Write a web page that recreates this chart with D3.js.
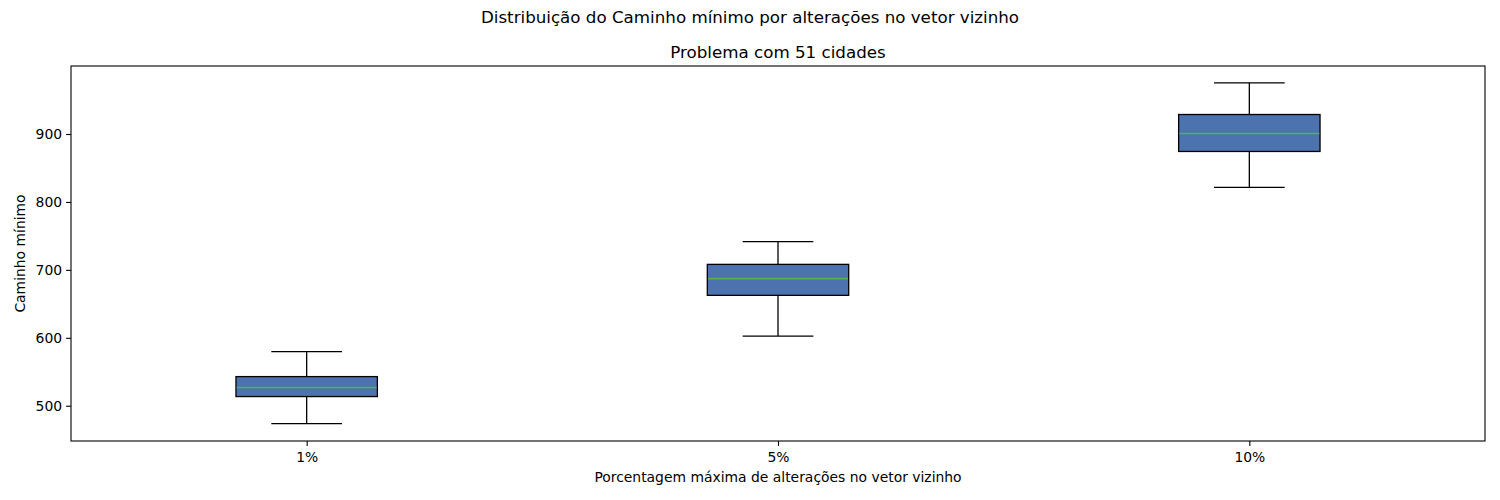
<!DOCTYPE html>
<html><head><meta charset="utf-8">
<script src="https://cdn.jsdelivr.net/npm/d3@7"></script>
<style>body{margin:0;background:#fff}svg{font-family:"DejaVu Sans",sans-serif}</style>
</head><body><svg id="c" width="1500" height="500"></svg>
<script>
const categories = ["1%", "5%", "10%"];
const whiskerLow = [473.8, 602.6, 821.3];
const q1 = [513.5, 662.5, 874.3];
const median = [526.8, 687.1, 900.7];
const q3 = [542.9, 708.1, 928.7];
const whiskerHigh = [579.7, 741.5, 975.3];
const yTicks = [500, 600, 700, 800, 900];

const svg = d3.select("#c");
const L = 71, R = 1485, T = 66, B = 441;
const x = d3.scaleLinear().domain([0.5, 3.5]).range([L, R]);
const y = d3.scaleLinear().domain([448.1, 1000.1]).range([B, T]);
const step = x(2) - x(1);
const bw = 0.3 * step, cw = 0.15 * step;

svg.append("text").attr("x", 750).attr("y", 23).attr("text-anchor", "middle").attr("font-size", 16.7).text("Distribuição do Caminho mínimo por alterações no vetor vizinho");
svg.append("text").attr("x", (L + R) / 2).attr("y", 58).attr("text-anchor", "middle").attr("font-size", 16.7).text("Problema com 51 cidades");

const yAxis = svg.append("g").attr("transform", `translate(${L},0)`).call(d3.axisLeft(y).tickValues(yTicks).tickSize(4.9).tickPadding(4));
const xAxis = svg.append("g").attr("transform", `translate(0,${B})`).call(d3.axisBottom(x).tickValues([1, 2, 3]).tickFormat((d, i) => categories[i]).tickSize(4.9).tickPadding(4));
[yAxis, xAxis].forEach(a => {
  a.select(".domain").remove();
  a.selectAll("text").attr("font-size", 13.9).attr("font-family", "DejaVu Sans").attr("fill", "#000");
  a.selectAll("line").attr("stroke", "#000").attr("stroke-width", 1.1);
});
xAxis.selectAll("text").attr("dy", "0.9em");

const g = svg.append("g");
categories.forEach((c, i) => {
  const cx = x(i + 1);
  g.append("line").attr("x1", cx).attr("x2", cx).attr("y1", y(whiskerLow[i])).attr("y2", y(q1[i])).attr("stroke", "#000").attr("stroke-width", 1.3);
  g.append("line").attr("x1", cx).attr("x2", cx).attr("y1", y(q3[i])).attr("y2", y(whiskerHigh[i])).attr("stroke", "#000").attr("stroke-width", 1.3);
  g.append("line").attr("x1", cx - cw / 2).attr("x2", cx + cw / 2).attr("y1", y(whiskerLow[i])).attr("y2", y(whiskerLow[i])).attr("stroke", "#000").attr("stroke-width", 1.3);
  g.append("line").attr("x1", cx - cw / 2).attr("x2", cx + cw / 2).attr("y1", y(whiskerHigh[i])).attr("y2", y(whiskerHigh[i])).attr("stroke", "#000").attr("stroke-width", 1.3);
  g.append("rect").attr("x", cx - bw / 2).attr("width", bw).attr("y", y(q3[i])).attr("height", y(q1[i]) - y(q3[i])).attr("fill", "#4c72b0").attr("stroke", "#000").attr("stroke-width", 1.3);
  const my = y(median[i]);
  g.append("line").attr("x1", cx - bw / 2 + 0.7).attr("x2", cx + bw / 2 - 0.7).attr("y1", my).attr("y2", my).attr("stroke", "#4fb548").attr("stroke-width", 1.6);
});

svg.append("rect").attr("x", L).attr("y", T).attr("width", R - L).attr("height", B - T).attr("fill", "none").attr("stroke", "#000").attr("stroke-width", 1.1);

svg.append("text").attr("x", (L + R) / 2).attr("y", 482).attr("text-anchor", "middle").attr("font-size", 13.9).text("Porcentagem máxima de alterações no vetor vizinho");
svg.append("text").attr("transform", `translate(25,${(T + B) / 2}) rotate(-90)`).attr("text-anchor", "middle").attr("font-size", 13.9).text("Caminho mínimo");
</script></body></html>
